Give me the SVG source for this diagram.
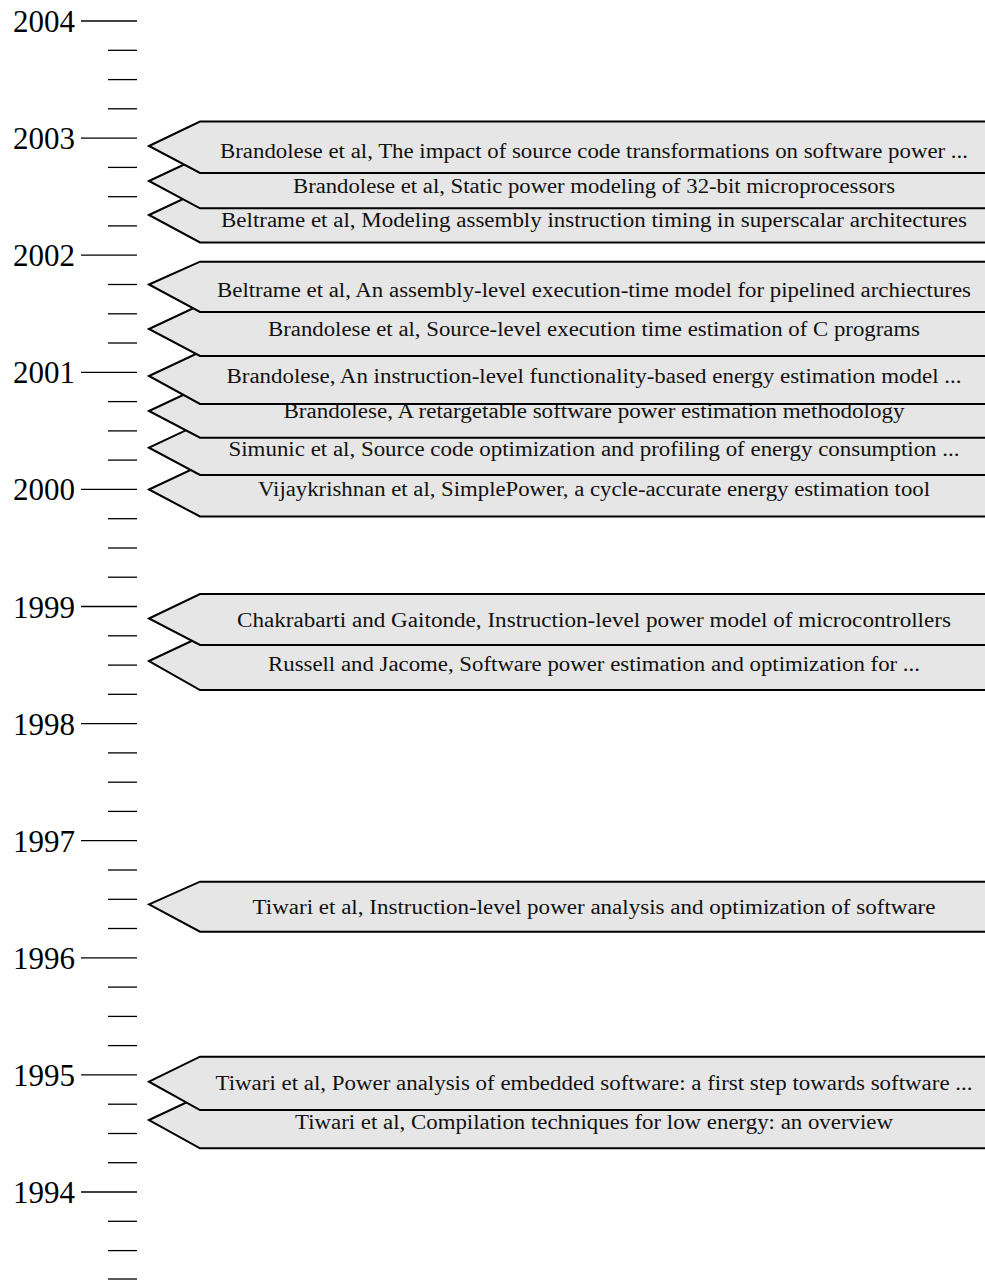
<svg xmlns="http://www.w3.org/2000/svg" width="985" height="1280" viewBox="0 0 985 1280">
<style>
.maj{stroke:#000;stroke-width:1.3}
.min{stroke:#000;stroke-width:1.3}
.yr{font-family:"Liberation Serif","DejaVu Serif",serif;font-size:31px;fill:#000;text-anchor:end}
.ev polygon{fill:#e6e6e6;stroke:#000;stroke-width:2;stroke-linejoin:miter}
.ev text{font-family:"Liberation Serif","DejaVu Serif",serif;font-size:20px;fill:#111;text-anchor:middle}
</style>
<rect width="985" height="1280" fill="#fff"/>
<g id="axis">
<line class="maj" x1="81" y1="21" x2="137" y2="21"/>
<line class="min" x1="108" y1="50.3" x2="137" y2="50.3"/>
<line class="min" x1="108" y1="79.6" x2="137" y2="79.6"/>
<line class="min" x1="108" y1="108.8" x2="137" y2="108.8"/>
<line class="maj" x1="81" y1="138.1" x2="137" y2="138.1"/>
<line class="min" x1="108" y1="167.4" x2="137" y2="167.4"/>
<line class="min" x1="108" y1="196.7" x2="137" y2="196.7"/>
<line class="min" x1="108" y1="225.9" x2="137" y2="225.9"/>
<line class="maj" x1="81" y1="255.2" x2="137" y2="255.2"/>
<line class="min" x1="108" y1="284.5" x2="137" y2="284.5"/>
<line class="min" x1="108" y1="313.8" x2="137" y2="313.8"/>
<line class="min" x1="108" y1="343" x2="137" y2="343"/>
<line class="maj" x1="81" y1="372.3" x2="137" y2="372.3"/>
<line class="min" x1="108" y1="401.6" x2="137" y2="401.6"/>
<line class="min" x1="108" y1="430.9" x2="137" y2="430.9"/>
<line class="min" x1="108" y1="460.1" x2="137" y2="460.1"/>
<line class="maj" x1="81" y1="489.4" x2="137" y2="489.4"/>
<line class="min" x1="108" y1="518.7" x2="137" y2="518.7"/>
<line class="min" x1="108" y1="548" x2="137" y2="548"/>
<line class="min" x1="108" y1="577.2" x2="137" y2="577.2"/>
<line class="maj" x1="81" y1="606.5" x2="137" y2="606.5"/>
<line class="min" x1="108" y1="635.8" x2="137" y2="635.8"/>
<line class="min" x1="108" y1="665.1" x2="137" y2="665.1"/>
<line class="min" x1="108" y1="694.3" x2="137" y2="694.3"/>
<line class="maj" x1="81" y1="723.6" x2="137" y2="723.6"/>
<line class="min" x1="108" y1="752.9" x2="137" y2="752.9"/>
<line class="min" x1="108" y1="782.2" x2="137" y2="782.2"/>
<line class="min" x1="108" y1="811.4" x2="137" y2="811.4"/>
<line class="maj" x1="81" y1="840.7" x2="137" y2="840.7"/>
<line class="min" x1="108" y1="870" x2="137" y2="870"/>
<line class="min" x1="108" y1="899.3" x2="137" y2="899.3"/>
<line class="min" x1="108" y1="928.5" x2="137" y2="928.5"/>
<line class="maj" x1="81" y1="957.8" x2="137" y2="957.8"/>
<line class="min" x1="108" y1="987.1" x2="137" y2="987.1"/>
<line class="min" x1="108" y1="1016.4" x2="137" y2="1016.4"/>
<line class="min" x1="108" y1="1045.6" x2="137" y2="1045.6"/>
<line class="maj" x1="81" y1="1074.9" x2="137" y2="1074.9"/>
<line class="min" x1="108" y1="1104.2" x2="137" y2="1104.2"/>
<line class="min" x1="108" y1="1133.5" x2="137" y2="1133.5"/>
<line class="min" x1="108" y1="1162.7" x2="137" y2="1162.7"/>
<line class="maj" x1="81" y1="1192" x2="137" y2="1192"/>
<line class="min" x1="108" y1="1221.3" x2="137" y2="1221.3"/>
<line class="min" x1="108" y1="1250.6" x2="137" y2="1250.6"/>
<line class="min" x1="108" y1="1279" x2="137" y2="1279"/>
<text class="yr" x="75" y="32">2004</text>
<text class="yr" x="75" y="149.1">2003</text>
<text class="yr" x="75" y="266.2">2002</text>
<text class="yr" x="75" y="383.3">2001</text>
<text class="yr" x="75" y="500.4">2000</text>
<text class="yr" x="75" y="617.5">1999</text>
<text class="yr" x="75" y="734.6">1998</text>
<text class="yr" x="75" y="851.7">1997</text>
<text class="yr" x="75" y="968.8">1996</text>
<text class="yr" x="75" y="1085.9">1995</text>
<text class="yr" x="75" y="1203">1994</text>
</g>
<g id="connectors"></g>

<g id="ev-2003c" class="ev"><polygon points="149,215 200,191 992,191 992,242.5 200,242.5"/><text x="594" y="226.7" textLength="746" lengthAdjust="spacingAndGlyphs">Beltrame et al, Modeling assembly instruction timing in superscalar architectures</text></g>
<g id="ev-2003b" class="ev"><polygon points="149,181 200,157 992,157 992,208.3 200,208.3"/><text x="594" y="193.3" textLength="602" lengthAdjust="spacingAndGlyphs">Brandolese et al, Static power modeling of 32-bit microprocessors</text></g>
<g id="ev-2003a" class="ev"><polygon points="149,146 200,121.5 992,121.5 992,173 200,173"/><text x="594" y="157.5" textLength="748" lengthAdjust="spacingAndGlyphs">Brandolese et al, The impact of source code transformations on software power ...</text></g>

<g id="ev-2000" class="ev"><polygon points="149,489.5 200,465.5 992,465.5 992,516.5 200,516.5"/><text x="594" y="495.6" textLength="672" lengthAdjust="spacingAndGlyphs">Vijaykrishnan et al, SimplePower, a cycle-accurate energy estimation tool</text></g>
<g id="ev-2000b" class="ev"><polygon points="149,447.7 200,423.7 992,423.7 992,475 200,475"/><text x="594" y="456" textLength="731" lengthAdjust="spacingAndGlyphs">Simunic et al, Source code optimization and profiling of energy consumption ...</text></g>
<g id="ev-2000c" class="ev"><polygon points="149,411 200,387 992,387 992,437.7 200,437.7"/><text x="594" y="418.3" textLength="621" lengthAdjust="spacingAndGlyphs">Brandolese, A retargetable software power estimation methodology</text></g>
<g id="ev-2001a" class="ev"><polygon points="149,376 200,352 992,352 992,404 200,404"/><text x="594" y="383.3" textLength="735" lengthAdjust="spacingAndGlyphs">Brandolese, An instruction-level functionality-based energy estimation model ...</text></g>
<g id="ev-2001b" class="ev"><polygon points="149,329 200,305 992,305 992,356 200,356"/><text x="594" y="336" textLength="652" lengthAdjust="spacingAndGlyphs">Brandolese et al, Source-level execution time estimation of C programs</text></g>
<g id="ev-2002" class="ev"><polygon points="149,284.5 200,261.7 992,261.7 992,312 200,312"/><text x="594" y="296.7" textLength="754" lengthAdjust="spacingAndGlyphs">Beltrame et al, An assembly-level execution-time model for pipelined archiectures</text></g>

<g id="ev-1998" class="ev"><polygon points="149,661 200,637 992,637 992,690 200,690"/><text x="594" y="671" textLength="652" lengthAdjust="spacingAndGlyphs">Russell and Jacome, Software power estimation and optimization for ...</text></g>
<g id="ev-1999" class="ev"><polygon points="149,618.5 200,594 992,594 992,645 200,645"/><text x="594" y="626.7" textLength="714" lengthAdjust="spacingAndGlyphs">Chakrabarti and Gaitonde, Instruction-level power model of microcontrollers</text></g>

<g id="ev-1996" class="ev"><polygon points="149,904.3 200,881.7 992,881.7 992,931.7 200,931.7"/><text x="594" y="914" textLength="683" lengthAdjust="spacingAndGlyphs">Tiwari et al, Instruction-level power analysis and optimization of software</text></g>

<g id="ev-1994" class="ev"><polygon points="149,1120 200,1096 992,1096 992,1148.3 200,1148.3"/><text x="594" y="1129.3" textLength="598" lengthAdjust="spacingAndGlyphs">Tiwari et al, Compilation techniques for low energy: an overview</text></g>
<g id="ev-1995" class="ev"><polygon points="149,1081.7 200,1056.7 992,1056.7 992,1110 200,1110"/><text x="594" y="1090" textLength="757" lengthAdjust="spacingAndGlyphs">Tiwari et al, Power analysis of embedded software: a first step towards software ...</text></g>
</svg>
